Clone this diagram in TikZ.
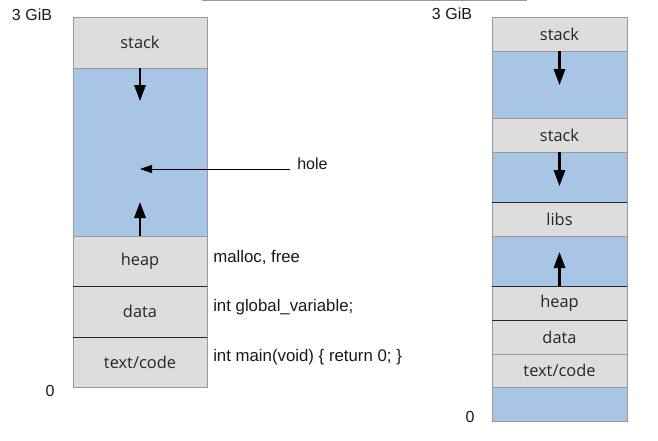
\documentclass[tikz,border=0pt]{standalone}
\usepackage{fontspec}
\setmainfont{Liberation Sans}
\newfontfamily\boxfont{Open Sans}
\usetikzlibrary{arrows.meta}
\definecolor{boxgray}{HTML}{DDDDDD}
\definecolor{holeblue}{HTML}{A9C5E5}
\definecolor{edgegray}{HTML}{999999}
\tikzset{
  seg/.style={draw=edgegray, line width=0.75pt, inner sep=0pt, outer sep=0pt,
    font=\boxfont\fontsize{12.3}{14}\selectfont, text=black!85},
  gseg/.style={seg, fill=boxgray},
  bseg/.style={seg, fill=holeblue},
  darkline/.style={draw=black!85, line width=0.6pt},
  growarrow/.style={line width=1.6pt, -{Triangle[length=12pt,width=8.5pt]}},
  lbl/.style={font=\fontsize{12}{14}\selectfont, text=black!90, inner sep=0pt},
  code/.style={lbl, font=\fontsize{12.6}{14}\selectfont},
  pointer/.style={line width=0.6pt, -{Triangle[length=9pt,width=6pt]}}
}
\begin{document}
\begin{tikzpicture}[x=0.75pt,y=-0.75pt]
\useasboundingbox (0,0) rectangle (658,440);
% top rule
\coordinate (tl) at (202,0.8);
\coordinate (tr) at (527,0.8);
\draw[edgegray, line width=1pt] (tl) -- (tr);

% ---------- left column ----------
\node[gseg, minimum width=100.5pt, minimum height=38.25pt] (lstack) at (140,42.5) {stack};
\node[bseg, minimum width=100.5pt, minimum height=126pt] (lhole) at (140,152) {};
\node[gseg, minimum width=100.5pt, minimum height=37.5pt] (lheap) at (140,261) {heap};
\node[gseg, minimum width=100.5pt, minimum height=38.25pt] (ldata) at (140,311.5) {data};
\node[gseg, minimum width=100.5pt, minimum height=37.5pt] (ltext) at (140,362) {text/code};
\draw[darkline] (ldata.north west) -- (ldata.north east);
\draw[darkline] (ltext.north west) -- (ltext.north east);

\coordinate (ldown) at (140,101);
\coordinate (lup) at (140,202);
\draw[growarrow] (lstack.south) -- (ldown);
\draw[growarrow] (lheap.north) -- (lup);

\node[lbl, anchor=west] (hole) at (297,164) {hole};
\coordinate (holetip) at (140,169);
\coordinate (holestart) at (290,169);
\draw[pointer] (holestart) -- (holetip);

\node[code, anchor=west] (lmalloc) at (213,257) {malloc, free};
\node[code, anchor=west] (lglobal) at (213,307) {int global\_variable;};
\node[code, anchor=west] (lmain) at (213,357) {int main(void) \{ return 0; \}};

\node[lbl] (l3g) at (32,15) {3 GiB};
\node[lbl] (l0) at (50,391) {0};

% ---------- right column ----------
\node[gseg, minimum width=101.25pt, minimum height=25.5pt] (rstack1) at (559.5,34) {stack};
\node[bseg, minimum width=101.25pt, minimum height=50.25pt] (rgap1) at (559.5,84.5) {};
\node[gseg, minimum width=101.25pt, minimum height=25.5pt] (rstack2) at (559.5,135) {stack};
\node[bseg, minimum width=101.25pt, minimum height=37.5pt] (rgap2) at (559.5,177) {};
\node[gseg, minimum width=101.25pt, minimum height=25.5pt] (rlibs) at (559.5,219) {libs};
\node[bseg, minimum width=101.25pt, minimum height=37.5pt] (rgap3) at (559.5,261) {};
\node[gseg, minimum width=101.25pt, minimum height=25.5pt] (rheap) at (559.5,303) {heap};
\node[gseg, minimum width=101.25pt, minimum height=25.5pt] (rdata) at (559.5,337) {data};
\node[gseg, minimum width=101.25pt, minimum height=24.75pt] (rtext) at (559.5,370.5) {text/code};
\node[bseg, minimum width=101.25pt, minimum height=25.5pt] (rgap4) at (559.5,404) {};
\draw[darkline] (rlibs.north west) -- (rlibs.north east);
\draw[darkline] (rheap.north west) -- (rheap.north east);
\draw[darkline] (rdata.north west) -- (rdata.north east);

\coordinate (rdown1) at (559.5,85);
\coordinate (rdown2) at (559.5,186);
\coordinate (rup) at (559.5,252);
\draw[growarrow] (rstack1.south) -- (rdown1);
\draw[growarrow] (rstack2.south) -- (rdown2);
\draw[growarrow] (rheap.north) -- (rup);

\node[lbl] (r3g) at (452,14) {3 GiB};
\node[lbl] (r0) at (470,417) {0};
\end{tikzpicture}
\end{document}
